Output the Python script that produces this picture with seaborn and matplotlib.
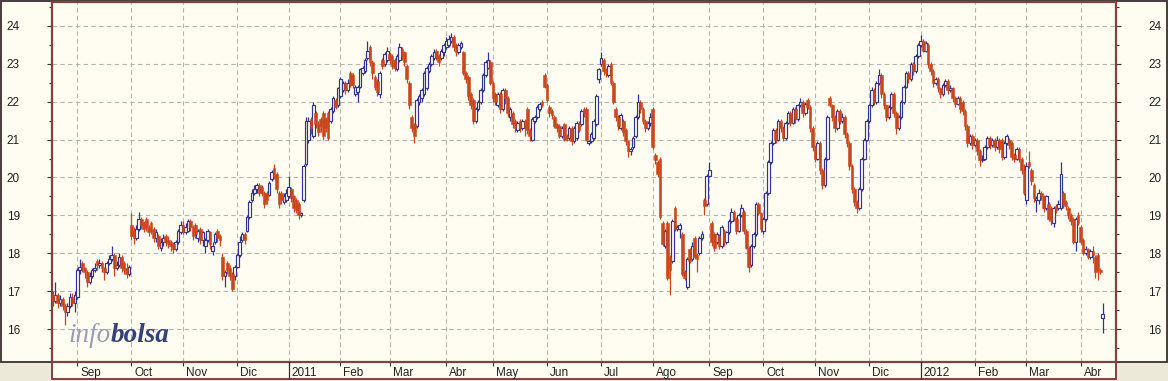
import numpy as np
import pandas as pd
import matplotlib
matplotlib.use("Agg")
import matplotlib.pyplot as plt
import matplotlib.transforms as mtransforms
from matplotlib.patches import Rectangle
from matplotlib.ticker import MultipleLocator
import seaborn as sns

# ---------------- data (daily candles, Aug 2010 - Apr 2012) ----------------
open_ = [
    16.9, 16.75, 16.9, 16.7, 16.8, 16.6, 16.45, 16.6, 16.85, 16.7,
    16.85, 17.55, 17.75, 17.6, 17.5, 17.25, 17.4, 17.55, 17.8, 17.7,
    17.75, 17.6, 17.5, 17.75, 17.85, 17.95, 17.6, 17.7, 17.9, 17.75,
    17.6, 17.45, 18.75, 18.6, 18.4, 18.65, 18.9, 18.8, 18.9, 18.7,
    18.8, 18.65, 18.4, 18.45, 18.15, 18.3, 18.45, 18.35, 18.3, 18.25,
    18.1, 18.3, 18.55, 18.75, 18.55, 18.6, 18.85, 18.7, 18.75, 18.4,
    18.65, 18.35, 18.2, 18.35, 18.55, 18.05, 18.3, 18.6, 18.45, 17.9,
    17.4, 17.75, 17.6, 17.45, 17.4, 17.65, 17.95, 18.35, 18.5, 18.6,
    18.95, 19.4, 19.6, 19.7, 19.8, 19.75, 19.6, 19.6, 19.55, 19.95,
    20.25, 20.1, 19.6, 19.6, 19.35, 19.4, 19.5, 19.7, 19.5, 19.4,
    19.3, 19.0, 19.4, 20.35, 21.0, 21.55, 21.1, 21.7, 21.4, 21.55,
    21.7, 21.55, 21.7, 21.5, 21.75, 22.05, 21.9, 22.15, 22.3, 22.5,
    22.3, 22.75, 22.7, 22.2, 22.25, 22.4, 22.75, 22.8, 23.15, 23.45,
    23.05, 22.65, 22.55, 22.2, 23.1, 23.0, 23.1, 23.25, 23.2, 23.1,
    22.85, 23.1, 23.4, 23.3, 22.95, 22.5, 21.6, 21.4, 21.35, 22.0,
    22.1, 22.2, 22.35, 22.8, 23.0, 23.15, 23.35, 23.2, 23.15, 23.3,
    23.45, 23.5, 23.6, 23.7, 23.5, 23.3, 23.45, 23.3, 22.75, 22.65,
    22.2, 22.05, 21.5, 21.8, 22.0, 22.3, 22.7, 22.9, 23.05, 22.5,
    22.2, 21.9, 22.2, 21.8, 22.3, 22.1, 21.6, 21.7, 21.5, 21.25,
    21.5, 21.3, 21.5, 21.8, 21.25, 21.0, 21.5, 21.6, 21.8, 22.0,
    22.7, 22.45, 21.85, 21.75, 21.6, 21.4, 21.35, 21.1, 21.4, 21.1,
    21.05, 21.3, 20.95, 21.05, 21.45, 21.4, 21.8, 21.8, 20.9, 20.95,
    21.05, 21.4, 22.6, 23.0, 23.1, 22.85, 22.7, 23.0, 22.5, 21.8,
    21.6, 21.3, 21.5, 21.25, 20.95, 20.7, 20.8, 21.1, 21.6, 22.0,
    21.8, 21.5, 21.3, 21.45, 21.8, 20.6, 20.4, 20.5, 18.8, 18.2,
    18.8, 17.9, 17.8, 19.2, 18.65, 18.65, 18.5, 17.5, 17.1, 18.1,
    17.85, 18.4, 17.95, 18.0, 18.4, 19.4, 19.3, 20.05, 18.8, 18.5,
    18.3, 18.45, 18.2, 18.6, 18.3, 18.55, 18.85, 19.1, 18.9, 18.6,
    19.0, 19.1, 18.6, 18.15, 17.7, 18.2, 18.5, 19.3, 19.05, 18.6,
    18.9, 19.6, 20.4, 20.9, 21.25, 21.0, 21.5, 21.3, 21.05, 21.45,
    21.7, 21.45, 21.8, 21.55, 21.9, 22.0, 21.7, 22.05, 21.85, 21.3,
    20.8, 20.5, 20.9, 20.2, 19.8, 20.5, 22.1, 21.9, 21.6, 21.3,
    21.75, 21.5, 21.6, 21.15, 20.9, 20.3, 19.7, 19.35, 19.2, 19.7,
    20.5, 21.0, 21.5, 21.9, 22.3, 22.0, 22.5, 22.7, 22.2, 21.9,
    21.6, 21.85, 22.2, 21.7, 21.3, 21.6, 22.0, 22.4, 22.75, 22.6,
    23.0, 22.8, 23.2, 23.5, 23.6, 23.35, 23.5, 23.0, 22.8, 22.5,
    22.6, 22.35, 22.2, 22.45, 22.55, 22.3, 22.35, 22.1, 21.95, 22.1,
    22.0, 21.75, 21.35, 20.9, 21.1, 20.85, 21.0, 20.7, 20.45, 20.5,
    20.8, 21.05, 20.85, 21.0, 20.8, 21.0, 21.0, 20.55, 20.9, 21.0,
    20.9, 20.6, 20.5, 20.75, 20.5, 20.2, 19.4, 20.4, 20.2, 19.8,
    19.4, 19.4, 19.6, 19.5, 19.2, 19.3, 19.2, 18.8, 19.25, 19.2,
    19.2, 19.6, 19.35, 19.2, 19.0, 18.9, 18.3, 19.0, 18.7, 18.35,
    18.0, 18.1, 17.9, 18.05, 17.9, 17.95, 17.55, 16.3,
]
close = [
    16.75, 16.9, 16.7, 16.8, 16.6, 16.45, 16.6, 16.85, 16.7, 16.9,
    17.55, 17.65, 17.6, 17.5, 17.25, 17.4, 17.55, 17.6, 17.7, 17.75,
    17.6, 17.5, 17.75, 17.85, 17.95, 17.6, 17.7, 17.9, 17.6, 17.55,
    17.45, 17.65, 18.45, 18.4, 18.65, 18.9, 18.75, 18.65, 18.7, 18.55,
    18.6, 18.4, 18.55, 18.2, 18.3, 18.4, 18.3, 18.25, 18.2, 18.1,
    18.3, 18.6, 18.75, 18.55, 18.7, 18.85, 18.7, 18.45, 18.5, 18.6,
    18.35, 18.55, 18.35, 18.6, 18.25, 18.2, 18.5, 18.4, 18.35, 17.4,
    17.5, 17.55, 17.4, 17.05, 17.65, 17.95, 18.3, 18.5, 18.35, 18.95,
    19.35, 19.6, 19.7, 19.8, 19.6, 19.6, 19.3, 19.4, 19.85, 20.15,
    20.0, 19.7, 19.3, 19.4, 19.5, 19.6, 19.75, 19.45, 19.2, 19.15,
    19.0, 19.05, 20.3, 21.5, 21.5, 21.3, 21.9, 21.4, 21.2, 21.35,
    21.1, 21.3, 21.05, 21.8, 22.1, 21.85, 22.35, 22.6, 22.5, 22.3,
    22.5, 22.45, 22.45, 22.4, 22.4, 22.85, 22.9, 23.1, 23.35, 23.05,
    22.75, 22.4, 22.25, 22.75, 22.95, 23.25, 23.35, 23.1, 22.95, 22.9,
    23.2, 23.45, 23.2, 23.05, 22.6, 21.9, 21.3, 21.1, 22.05, 22.15,
    22.3, 22.75, 22.9, 23.0, 23.2, 23.3, 23.15, 23.05, 23.35, 23.5,
    23.6, 23.65, 23.7, 23.45, 23.3, 23.5, 23.55, 22.75, 22.6, 22.15,
    21.9, 21.5, 21.8, 22.0, 22.3, 22.7, 23.05, 23.1, 22.5, 22.1,
    22.0, 22.2, 21.8, 22.3, 22.1, 21.7, 21.8, 21.4, 21.3, 21.45,
    21.3, 21.5, 21.3, 21.25, 21.1, 21.55, 21.6, 21.85, 21.95, 21.9,
    22.4, 22.05, 21.7, 21.65, 21.35, 21.3, 21.1, 21.3, 21.0, 21.05,
    21.3, 20.95, 21.3, 21.45, 21.25, 21.75, 21.7, 21.0, 20.95, 21.15,
    21.5, 22.15, 22.85, 23.15, 22.8, 22.75, 22.95, 22.5, 22.0, 21.6,
    21.35, 21.65, 21.2, 20.95, 20.7, 20.75, 21.05, 21.6, 22.0, 21.8,
    21.5, 21.3, 21.45, 21.6, 20.8, 20.45, 20.1, 18.95, 18.25, 18.6,
    17.35, 17.55, 18.85, 18.65, 18.7, 18.75, 17.45, 17.35, 17.85, 17.8,
    18.2, 17.9, 17.85, 18.4, 18.5, 19.25, 20.05, 20.2, 18.3, 18.15,
    18.5, 18.2, 18.7, 18.3, 18.55, 18.85, 19.1, 18.9, 18.6, 19.0,
    19.2, 18.6, 18.15, 17.65, 18.2, 18.5, 19.3, 19.05, 18.65, 18.9,
    19.6, 20.4, 20.9, 21.25, 21.0, 21.5, 21.3, 21.05, 21.45, 21.7,
    21.45, 21.8, 21.55, 21.9, 22.0, 21.7, 21.95, 21.85, 21.3, 20.8,
    20.5, 20.9, 20.2, 19.8, 20.5, 21.6, 21.9, 21.6, 21.3, 21.75,
    21.5, 21.6, 21.15, 20.9, 20.3, 19.7, 19.35, 19.2, 19.7, 20.5,
    21.0, 21.5, 21.9, 22.3, 22.0, 22.5, 22.7, 22.2, 21.9, 21.6,
    21.85, 22.2, 21.7, 21.3, 21.6, 22.0, 22.4, 22.75, 22.6, 23.0,
    22.8, 23.2, 23.5, 23.6, 23.35, 23.55, 23.0, 22.8, 22.5, 22.6,
    22.35, 22.2, 22.45, 22.55, 22.3, 22.35, 22.1, 21.95, 22.1, 21.8,
    21.75, 21.35, 20.9, 21.1, 20.85, 21.0, 20.7, 20.45, 20.5, 20.8,
    21.05, 20.85, 21.0, 20.8, 21.0, 20.75, 20.55, 20.9, 21.1, 20.85,
    20.55, 20.5, 20.75, 20.5, 20.2, 19.6, 20.3, 20.3, 19.9, 19.45,
    19.45, 19.6, 19.5, 19.2, 19.5, 18.9, 18.85, 19.2, 19.15, 19.3,
    20.1, 19.3, 19.25, 19.0, 18.85, 18.3, 18.9, 18.8, 18.3, 18.0,
    18.1, 17.9, 18.05, 17.95, 17.5, 17.55, 17.5, 16.4,
]
high = [
    17.0, 17.25, 16.95, 16.9, 16.85, 16.7, 16.7, 16.95, 16.95, 17.0,
    17.6, 17.85, 17.8, 17.65, 17.55, 17.5, 17.6, 17.75, 17.85, 17.85,
    17.8, 17.65, 17.8, 17.95, 18.2, 18.0, 17.8, 18.0, 17.95, 17.8,
    17.75, 17.7, 19.05, 18.7, 18.75, 19.1, 18.95, 18.85, 18.95, 18.75,
    18.85, 18.7, 18.65, 18.5, 18.4, 18.5, 18.5, 18.45, 18.35, 18.3,
    18.35, 18.65, 18.85, 18.85, 18.8, 18.9, 18.9, 18.75, 18.8, 18.65,
    18.7, 18.6, 18.4, 18.65, 18.6, 18.3, 18.55, 18.65, 18.5, 18.0,
    17.55, 17.8, 17.7, 17.5, 17.7, 18.0, 18.45, 18.55, 18.55, 19.0,
    19.4, 19.7, 19.8, 19.85, 19.85, 19.8, 19.65, 19.65, 19.9, 20.2,
    20.35, 20.15, 19.65, 19.65, 19.6, 19.7, 20.05, 19.75, 19.55, 19.45,
    19.35, 19.1, 20.35, 21.6, 21.6, 21.6, 22.0, 21.75, 21.5, 21.6,
    21.75, 21.6, 21.75, 21.85, 22.15, 22.1, 22.4, 22.65, 22.55, 22.55,
    22.6, 22.8, 22.75, 22.45, 22.45, 22.9, 22.95, 23.15, 23.6, 23.5,
    23.1, 22.7, 22.6, 22.8, 23.15, 23.3, 23.45, 23.3, 23.25, 23.15,
    23.25, 23.55, 23.45, 23.35, 23.0, 22.55, 21.65, 21.45, 22.1, 22.2,
    22.35, 22.8, 22.95, 23.05, 23.25, 23.4, 23.4, 23.25, 23.4, 23.55,
    23.7, 23.75, 23.8, 23.75, 23.55, 23.55, 23.6, 23.35, 22.8, 22.7,
    22.25, 22.1, 21.85, 22.05, 22.35, 22.75, 23.1, 23.3, 23.1, 22.55,
    22.25, 22.25, 22.25, 22.35, 22.35, 22.15, 21.85, 21.75, 21.55, 21.5,
    21.55, 21.55, 21.55, 21.85, 21.3, 21.6, 21.65, 21.9, 22.0, 22.05,
    22.75, 22.5, 21.9, 21.8, 21.65, 21.45, 21.4, 21.35, 21.45, 21.15,
    21.35, 21.35, 21.35, 21.5, 21.5, 21.8, 21.85, 21.85, 21.0, 21.2,
    21.55, 22.2, 22.9, 23.3, 23.15, 22.9, 23.0, 23.05, 22.55, 21.85,
    21.65, 21.7, 21.55, 21.3, 21.0, 20.8, 21.1, 21.65, 22.2, 22.05,
    21.85, 21.55, 21.5, 21.7, 21.85, 20.65, 20.45, 20.55, 18.85, 18.65,
    18.85, 17.95, 18.9, 19.25, 18.75, 18.8, 18.55, 17.55, 17.9, 18.15,
    18.3, 18.45, 18.0, 18.45, 18.6, 19.45, 20.1, 20.4, 18.85, 18.55,
    18.55, 18.5, 18.75, 18.65, 18.6, 18.9, 19.2, 19.15, 18.95, 19.05,
    19.3, 19.15, 18.65, 18.2, 18.25, 18.55, 19.35, 19.35, 19.1, 18.95,
    19.65, 20.45, 20.95, 21.3, 21.3, 21.55, 21.55, 21.35, 21.5, 21.75,
    21.75, 21.85, 21.85, 21.95, 22.1, 22.05, 22.0, 22.1, 21.9, 21.35,
    20.85, 20.95, 20.95, 20.25, 20.55, 21.65, 22.15, 21.95, 21.65, 21.8,
    21.8, 21.7, 21.65, 21.2, 20.95, 20.35, 19.75, 19.4, 19.75, 20.55,
    21.05, 21.55, 21.95, 22.4, 22.35, 22.55, 22.85, 22.75, 22.25, 21.95,
    21.9, 22.25, 22.25, 21.75, 21.65, 22.05, 22.45, 22.8, 22.8, 23.05,
    23.05, 23.25, 23.55, 23.75, 23.65, 23.6, 23.55, 23.05, 22.85, 22.65,
    22.65, 22.4, 22.5, 22.6, 22.6, 22.45, 22.4, 22.15, 22.15, 22.15,
    22.05, 21.8, 21.4, 21.15, 21.15, 21.05, 21.05, 20.75, 20.6, 20.85,
    21.1, 21.1, 21.05, 21.05, 21.1, 21.05, 21.05, 20.95, 21.15, 21.05,
    20.95, 20.65, 20.8, 20.8, 20.55, 20.35, 20.4, 20.7, 20.25, 19.85,
    19.5, 19.7, 19.65, 19.55, 19.55, 19.35, 19.25, 19.25, 19.3, 19.4,
    20.4, 19.65, 19.4, 19.25, 19.05, 18.95, 18.95, 19.1, 18.75, 18.4,
    18.2, 18.15, 18.1, 18.2, 17.95, 18.0, 17.6, 16.7,
]
low = [
    16.6, 16.7, 16.55, 16.6, 16.5, 16.1, 16.35, 16.55, 16.6, 16.45,
    16.8, 17.45, 17.5, 17.35, 17.1, 17.2, 17.35, 17.5, 17.55, 17.6,
    17.5, 17.3, 17.45, 17.7, 17.8, 17.4, 17.55, 17.65, 17.5, 17.45,
    17.35, 17.4, 18.35, 18.25, 18.35, 18.6, 18.65, 18.55, 18.6, 18.45,
    18.5, 18.3, 18.3, 18.1, 18.05, 18.2, 18.2, 18.15, 18.05, 18.0,
    18.05, 18.25, 18.5, 18.5, 18.5, 18.55, 18.6, 18.35, 18.4, 18.3,
    18.25, 18.2, 18.0, 18.3, 18.1, 17.95, 18.25, 18.3, 18.2, 17.3,
    17.1, 17.45, 17.3, 17.0, 17.3, 17.6, 17.9, 18.3, 18.25, 18.55,
    18.9, 19.35, 19.55, 19.6, 19.5, 19.5, 19.2, 19.3, 19.5, 19.9,
    19.95, 19.6, 19.2, 19.3, 19.3, 19.35, 19.45, 19.35, 19.1, 19.05,
    18.9, 18.95, 19.35, 20.3, 20.9, 21.15, 21.05, 21.3, 21.1, 21.2,
    21.0, 21.2, 21.0, 21.45, 21.7, 21.8, 21.85, 22.1, 22.25, 22.2,
    22.25, 22.4, 22.35, 22.15, 22.0, 22.35, 22.7, 22.75, 23.1, 22.95,
    22.6, 22.3, 22.15, 22.1, 22.85, 22.95, 23.05, 23.0, 22.85, 22.8,
    22.8, 23.05, 23.1, 22.95, 22.5, 21.8, 21.2, 20.9, 21.3, 21.9,
    22.0, 22.15, 22.3, 22.75, 22.95, 23.1, 23.1, 22.95, 23.1, 23.2,
    23.4, 23.45, 23.55, 23.35, 23.2, 23.25, 23.4, 22.7, 22.5, 22.05,
    21.8, 21.4, 21.45, 21.75, 21.95, 22.25, 22.65, 22.85, 22.45, 22.0,
    21.9, 21.85, 21.7, 21.75, 21.95, 21.6, 21.5, 21.3, 21.2, 21.2,
    21.2, 21.25, 21.1, 21.15, 20.95, 20.95, 21.45, 21.55, 21.75, 21.85,
    22.35, 22.0, 21.6, 21.55, 21.3, 21.2, 21.05, 21.05, 20.95, 20.95,
    21.0, 20.85, 20.9, 21.0, 21.2, 21.35, 21.6, 20.95, 20.85, 20.9,
    21.0, 21.35, 22.5, 22.95, 22.7, 22.65, 22.65, 22.45, 21.95, 21.5,
    21.25, 21.25, 21.1, 20.85, 20.55, 20.6, 20.75, 21.05, 21.55, 21.7,
    21.4, 21.2, 21.25, 21.35, 20.75, 20.35, 20.0, 18.9, 18.2, 18.15,
    17.3, 16.9, 17.75, 18.6, 18.6, 18.4, 17.4, 17.3, 17.05, 17.75,
    17.8, 17.85, 17.5, 17.95, 18.35, 19.0, 19.25, 20.0, 18.2, 18.05,
    18.25, 18.1, 18.15, 18.2, 18.25, 18.5, 18.8, 18.85, 18.5, 18.55,
    18.95, 18.5, 18.1, 17.5, 17.65, 18.15, 18.45, 19.0, 18.55, 18.5,
    18.85, 19.55, 20.35, 20.85, 20.9, 20.95, 21.2, 20.95, 21.0, 21.4,
    21.35, 21.4, 21.45, 21.5, 21.85, 21.6, 21.65, 21.8, 21.2, 20.7,
    20.4, 20.45, 20.1, 19.7, 19.75, 20.45, 21.85, 21.5, 21.2, 21.25,
    21.4, 21.45, 21.05, 20.8, 20.2, 19.6, 19.25, 19.05, 19.15, 19.65,
    20.45, 20.95, 21.45, 21.85, 21.9, 21.95, 22.45, 22.1, 21.8, 21.5,
    21.55, 21.8, 21.6, 21.15, 21.25, 21.55, 21.95, 22.35, 22.5, 22.55,
    22.7, 22.75, 23.15, 23.45, 23.3, 23.3, 22.9, 22.7, 22.4, 22.45,
    22.25, 22.1, 22.15, 22.4, 22.2, 22.25, 22.0, 21.85, 21.9, 21.7,
    21.65, 21.25, 20.8, 20.85, 20.75, 20.8, 20.6, 20.3, 20.4, 20.45,
    20.75, 20.75, 20.8, 20.7, 20.75, 20.65, 20.45, 20.5, 20.85, 20.75,
    20.45, 20.4, 20.45, 20.4, 20.1, 19.55, 19.3, 20.25, 19.8, 19.35,
    19.1, 19.3, 19.4, 19.1, 19.15, 18.85, 18.75, 18.7, 19.05, 19.15,
    19.15, 19.2, 19.15, 18.9, 18.75, 18.25, 18.05, 18.75, 18.25, 17.95,
    17.95, 17.85, 17.85, 17.75, 17.35, 17.3, 17.45, 15.9,
]
month_labels = ["Sep", "Oct", "Nov", "Dic", "2011", "Feb", "Mar", "Abr", "May", "Jun",
                "Jul", "Ago", "Sep", "Oct", "Nov", "Dic", "2012", "Feb", "Mar", "Abr"]
market_holidays = ["2010-12-24", "2010-12-31", "2011-04-22", "2011-04-25",
                   "2011-12-26", "2012-04-06", "2012-04-09"]
y_ticks = [16, 17, 18, 19, 20, 21, 22, 23, 24]
start_date = "2010-08-18"

# ---------------- style ----------------
sns.set_theme(style="ticks")
plt.rcParams["font.family"] = ["Liberation Sans", "DejaVu Sans"]

CREAM = "#fffcf1"
OUTER = "#ece9d8"
FRAME = "#7e4242"
DARK = "#3b2e2e"
GRID = "#b8b5ad"
UPC = "#33358c"
DNC = "#c9471f"
TXT = "#222222"

n = min(len(open_), len(close), len(high), len(low))
dates = pd.bdate_range(start_date, periods=n, freq="C", holidays=market_holidays)
df = pd.DataFrame({"date": dates, "open": open_[:n], "close": close[:n],
                   "high": high[:n], "low": low[:n]})
df["idx"] = np.arange(n)
df["up"] = df["close"] >= df["open"]

W, H = 1168, 381
fig = plt.figure(figsize=(W / 100, H / 100), dpi=100)
fig.patch.set_facecolor(OUTER)


def fx(px):
    return px / W


def fy(py):
    return 1 - py / H


# outer cream panel and x-label strip (behind the axes)
fig.patches.append(Rectangle((fx(0.8), fy(362)), fx(W - 1.6), 361.2 / H,
                             transform=fig.transFigure, facecolor=CREAM,
                             edgecolor=DARK, lw=1.3, zorder=-2))
fig.patches.append(Rectangle((fx(52), fy(379)), fx(1064), 17 / H,
                             transform=fig.transFigure, facecolor=CREAM,
                             edgecolor=FRAME, lw=1.4, zorder=-1))

ax = fig.add_axes([fx(52), fy(362), fx(1064), 360 / H])
ax.set_zorder(1)
ax.set_facecolor(CREAM)

# ---------------- candles ----------------
up = df[df["up"]]
dn = df[~df["up"]]
ax.vlines(up["idx"], up["low"], up["high"], color=UPC, lw=0.9, zorder=2)
ax.vlines(dn["idx"], dn["low"], dn["high"], color=DNC, lw=0.9, zorder=2)
bw = 1.1
ax.bar(up["idx"], np.maximum((up["close"] - up["open"]).values, 0.04),
       bottom=up["open"].values, width=bw, facecolor=CREAM, edgecolor=UPC,
       linewidth=0.85, zorder=3)
ax.bar(dn["idx"], np.maximum((dn["open"] - dn["close"]).values, 0.04),
       bottom=dn["close"].values, width=bw, facecolor=DNC, edgecolor=DNC,
       linewidth=0.4, zorder=3)

# ---------------- axes ----------------
ax.set_xlim(-0.3, 432.4)
ax.set_ylim(15.13, 24.63)

first_idx = df.groupby(df["date"].dt.to_period("M"))["idx"].min().values[1:]
month_pos = list(first_idx[:len(month_labels)])

ax.set_yticks(y_ticks)
ax.set_yticklabels([str(v) for v in y_ticks])
ax.yaxis.set_minor_locator(MultipleLocator(0.5))
ax.set_xticks(month_pos)
ax.set_xticklabels(month_labels, ha="left")

ax.grid(True, which="major", axis="both", color=GRID, lw=0.8, ls=(0, (4, 3)))
ax.set_axisbelow(True)

ax.tick_params(axis="y", which="major", left=True, right=True, labelleft=True,
               labelright=True, direction="out", length=3.6, width=0.8,
               color=DARK, pad=19.5, labelsize=8.5, labelcolor=TXT)
ax.tick_params(axis="y", which="minor", left=True, right=True, direction="out",
               length=2.2, width=0.8, color=DARK)
ax.tick_params(axis="x", which="major", bottom=True, direction="out", length=3.2,
               width=0.8, color=DARK, pad=0.6, labelsize=8.5, labelcolor=TXT)

offset = mtransforms.ScaledTranslation(3 / 100, 0, fig.dpi_scale_trans)
for lbl in ax.get_xticklabels():
    lbl.set_transform(lbl.get_transform() + offset)

# year separators run through the label strip
trans = mtransforms.blended_transform_factory(ax.transData, ax.transAxes)
for p, lab in zip(month_pos, month_labels):
    if lab.isdigit():
        ax.plot([p, p], [0, -17 / 360], transform=trans, color=DARK, lw=0.9,
                clip_on=False, zorder=5)

for s in ax.spines.values():
    s.set_color(FRAME)
    s.set_linewidth(1.6)

# ---------------- watermark ----------------
t_info = ax.text((68 - 52) / 1064, (362 - 342) / 360, "info",
                 transform=ax.transAxes, fontfamily="Liberation Serif",
                 style="italic", fontsize=19.5, color="#9b9db6", va="baseline",
                 zorder=1)
ax.annotate("bolsa", xy=(1, 0), xycoords=t_info, va="bottom", ha="left",
            fontfamily="Liberation Serif", style="italic", fontweight="bold",
            fontsize=19.5, color="#34427a", annotation_clip=False, zorder=1)

fig.savefig("out.png", dpi=100, facecolor=fig.get_facecolor())
